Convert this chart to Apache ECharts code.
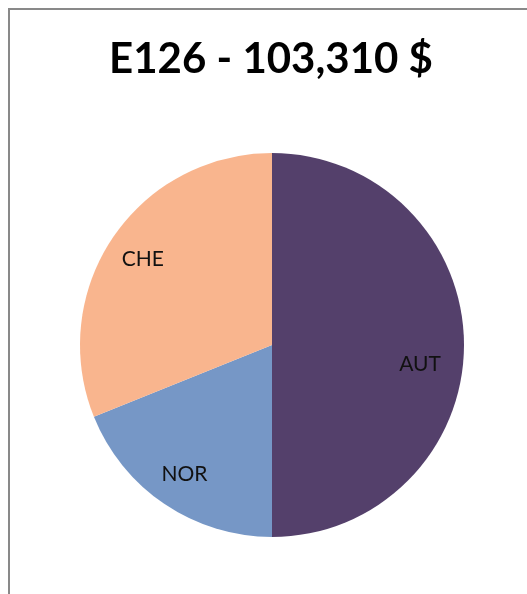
<!DOCTYPE html>
<html>
<head>
<meta charset="utf-8">
<script src="https://cdn.jsdelivr.net/npm/echarts@6/dist/echarts.min.js"></script>
<style>
html,body{margin:0;padding:0;background:#fff;}
#chart{width:527px;height:594px;}
</style>
</head>
<body>
<div id="chart"></div>
<script>
var titleText = 'E126 - 103,310 $';
var categories = ['AUT', 'NOR', 'CHE'];
var values = [51655, 19530, 32125];
var colors = ['#54406B', '#7697C6', '#F9B58E'];
var labelOffsets = {AUT: [-3, 19], NOR: [-3, 4], CHE: [-4, -1]};

var chart = echarts.init(document.getElementById('chart'));
var pieData = categories.map(function (c, i) {
  return {name: c, value: values[i], itemStyle: {color: colors[i]}};
});
var labelData = categories.map(function (c, i) {
  return {name: c, value: values[i], label: {offset: labelOffsets[c]}};
});
chart.setOption({
  animation: false,
  backgroundColor: '#fff',
  graphic: [
    {type: 'rect', shape: {x: 9, y: 9, width: 700, height: 800},
     style: {fill: 'none', stroke: '#898989', lineWidth: 2}, z: 0},
    {type: 'text', x: 271, y: 38,
     style: {text: titleText, font: 'bold 42px Lato', fill: '#000', textAlign: 'center', textVerticalAlign: 'top'}, z: 10}
  ],
  series: [
    {type: 'pie', center: [272, 345], radius: 192, startAngle: 90, clockwise: true,
     silent: true, label: {show: false}, labelLine: {show: false},
     itemStyle: {borderWidth: 0}, data: pieData},
    {type: 'pie', center: [272, 345], radius: [104, 192], startAngle: 90, clockwise: true,
     silent: true, itemStyle: {color: 'rgba(0,0,0,0)', borderWidth: 0},
     label: {show: true, position: 'inside', formatter: '{b}', fontFamily: 'Lato', fontSize: 21, color: '#111'},
     labelLine: {show: false}, data: labelData}
  ]
});
</script>
</body>
</html>
